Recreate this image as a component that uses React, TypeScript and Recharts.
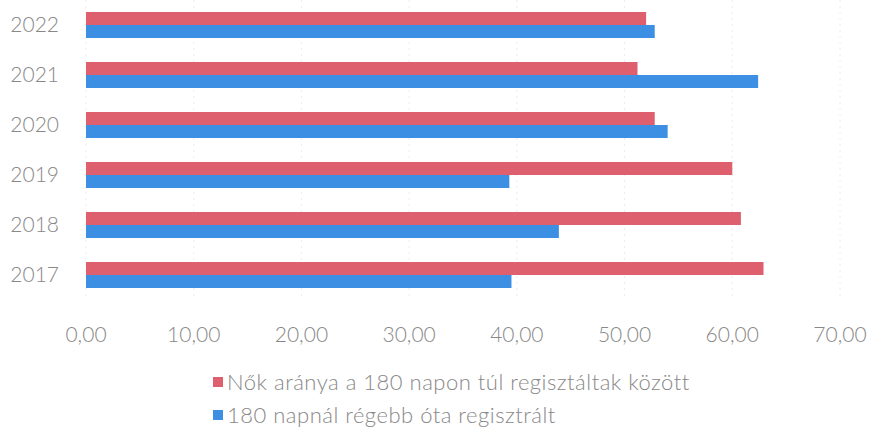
import React from "react";
import {
  BarChart,
  Bar,
  XAxis,
  YAxis,
  CartesianGrid,
  Legend,
} from "recharts";

const years = ["2022", "2021", "2020", "2019", "2018", "2017"];
const womenShare = [52.0, 51.2, 52.8, 60.0, 60.8, 62.9];
const longTerm = [52.8, 62.4, 54.0, 39.3, 43.9, 39.5];
const xTicks = [0, 10, 20, 30, 40, 50, 60, 70];
const seriesOrder = ["women", "longTerm"];

const RED = "#DE5F6E";
const BLUE = "#3D8FE3";
const TEXT = "#888888";
const FONT = "Lato, 'Open Sans', sans-serif";

const data = years.map((year, i) => ({
  year,
  women: womenShare[i],
  longTerm: longTerm[i],
}));

const fmt = (v: number) => v.toFixed(2).replace(".", ",");

// legend is drawn by hand so the order matches the original (red first)
function LegendBox(props: any) {
  const items = [...(props.payload || [])].sort(
    (a: any, b: any) =>
      seriesOrder.indexOf(a.dataKey) - seriesOrder.indexOf(b.dataKey)
  );
  return (
    <div
      style={{
        fontFamily: FONT,
        fontSize: 22,
        fontWeight: 300,
        letterSpacing: 0.5,
        color: TEXT,
      }}
    >
      {items.map((it: any) => (
        <div
          key={it.value}
          style={{ display: "flex", alignItems: "center", height: 33 }}
        >
          <span
            style={{
              display: "inline-block",
              width: 10,
              height: 10,
              background: it.color,
              marginRight: 4,
            }}
          />
          <span>{it.value}</span>
        </div>
      ))}
    </div>
  );
}

export default function App() {
  return (
    <div
      style={{
        position: "absolute",
        left: 0,
        top: 0,
        width: 876,
        height: 441,
        background: "#fff",
      }}
    >
      <BarChart
        width={876}
        height={441}
        data={data}
        layout="vertical"
        margin={{ top: 0, right: 36, left: 16, bottom: 101 }}
        barGap={0}
        barSize={13}
      >
        <CartesianGrid
          horizontal={false}
          stroke="#ececec"
          strokeDasharray="2 4"
        />
        <XAxis
          type="number"
          domain={[0, 70]}
          ticks={xTicks}
          tickFormatter={fmt}
          axisLine={false}
          tickLine={false}
          tickSize={0}
          tickMargin={27}
          height={40}
          tick={{ fill: TEXT, fontSize: 21, fontWeight: 300, fontFamily: FONT }}
        />
        <YAxis
          type="category"
          dataKey="year"
          width={70}
          axisLine={false}
          tickLine={false}
          tickSize={0}
          tickMargin={27}
          tick={{ fill: TEXT, fontSize: 21, fontWeight: 300, fontFamily: FONT }}
        />
        <Legend
          layout="vertical"
          align="center"
          verticalAlign="middle"
          content={<LegendBox />}
          wrapperStyle={{ top: 365, left: 213, width: 640 }}
        />
        <Bar
          dataKey="women"
          name="Nők aránya a 180 napon túl regisztáltak között"
          fill={RED}
          isAnimationActive={false}
        />
        <Bar
          dataKey="longTerm"
          name="180 napnál régebb óta regisztrált"
          fill={BLUE}
          isAnimationActive={false}
        />
      </BarChart>
    </div>
  );
}
